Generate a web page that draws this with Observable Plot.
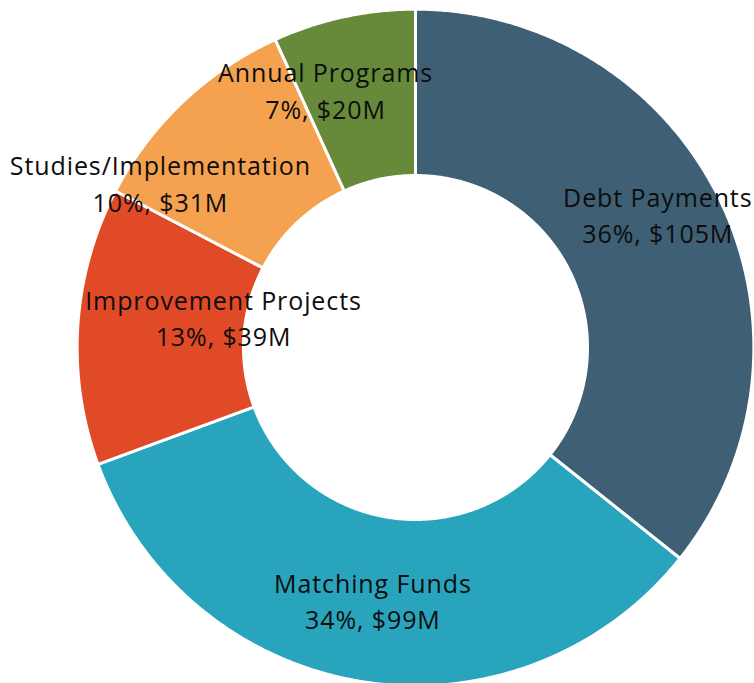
<!DOCTYPE html>
<html><head><meta charset="utf-8">
<script src="https://cdn.jsdelivr.net/npm/d3@7"></script>
<script src="https://cdn.jsdelivr.net/npm/@observablehq/plot@0.6"></script>
<style>body{margin:0;background:#fff}</style>
</head><body><div id="chart"></div>
<script>
const categories = ["Debt Payments","Matching Funds","Improvement Projects","Studies/Implementation","Annual Programs"];
const amounts = [105, 99, 39, 31, 20]; // $M
const percents = [36, 34, 13, 10, 7];
const colors = ["#3f5f75","#29a4bd","#e04a26","#f4a24f","#668a3a"];
// label nudges (px) from each slice centroid
const labelDx = [13, -2, 62, -80, -36];
const labelDy = [-24, 1, -15, 19, -10];

const PX = 337;            // outer radius in px
const R = 1.004, r0 = 172 / PX;
const arcs = d3.pie().sort(null).value(d => d)(amounts);
const slices = [];
const labels = [];
arcs.forEach((a, i) => {
  const n = Math.max(4, Math.ceil((a.endAngle - a.startAngle) * 150));
  for (let k = 0; k <= n; k++) {
    const t = a.startAngle + (a.endAngle - a.startAngle) * k / n;
    slices.push({name: categories[i], x: R * Math.sin(t), y: R * Math.cos(t)});
  }
  for (let k = n; k >= 0; k--) {
    const t = a.startAngle + (a.endAngle - a.startAngle) * k / n;
    slices.push({name: categories[i], x: r0 * Math.sin(t), y: r0 * Math.cos(t)});
  }
  const m = (a.startAngle + a.endAngle) / 2, rm = (1 + r0) / 2;
  labels.push({
    x: rm * Math.sin(m) + labelDx[i] / PX,
    y: rm * Math.cos(m) - labelDy[i] / PX,
    text: `${categories[i]}\n${percents[i]}%, $${amounts[i]}M`
  });
});

const chart = Plot.plot({
  width: 754,
  height: 683,
  style: {letterSpacing: "0.9px"},
  x: {domain: [-1, 1], range: [78, 752], axis: null},
  y: {domain: [-1, 1], range: [684, 10], axis: null},
  color: {domain: categories, range: colors},
  marks: [
    Plot.line(slices, {x: "x", y: "y", z: "name", fill: "name", stroke: "white", strokeWidth: 3, curve: "linear-closed"}),
    Plot.text(labels, {x: "x", y: "y", text: "text", fill: "#0d0d0d", fontSize: 25, fontFamily: "Open Sans", lineHeight: 1.45, textAnchor: "middle"})
  ]
});
document.getElementById("chart").appendChild(chart);
</script>
</body></html>
